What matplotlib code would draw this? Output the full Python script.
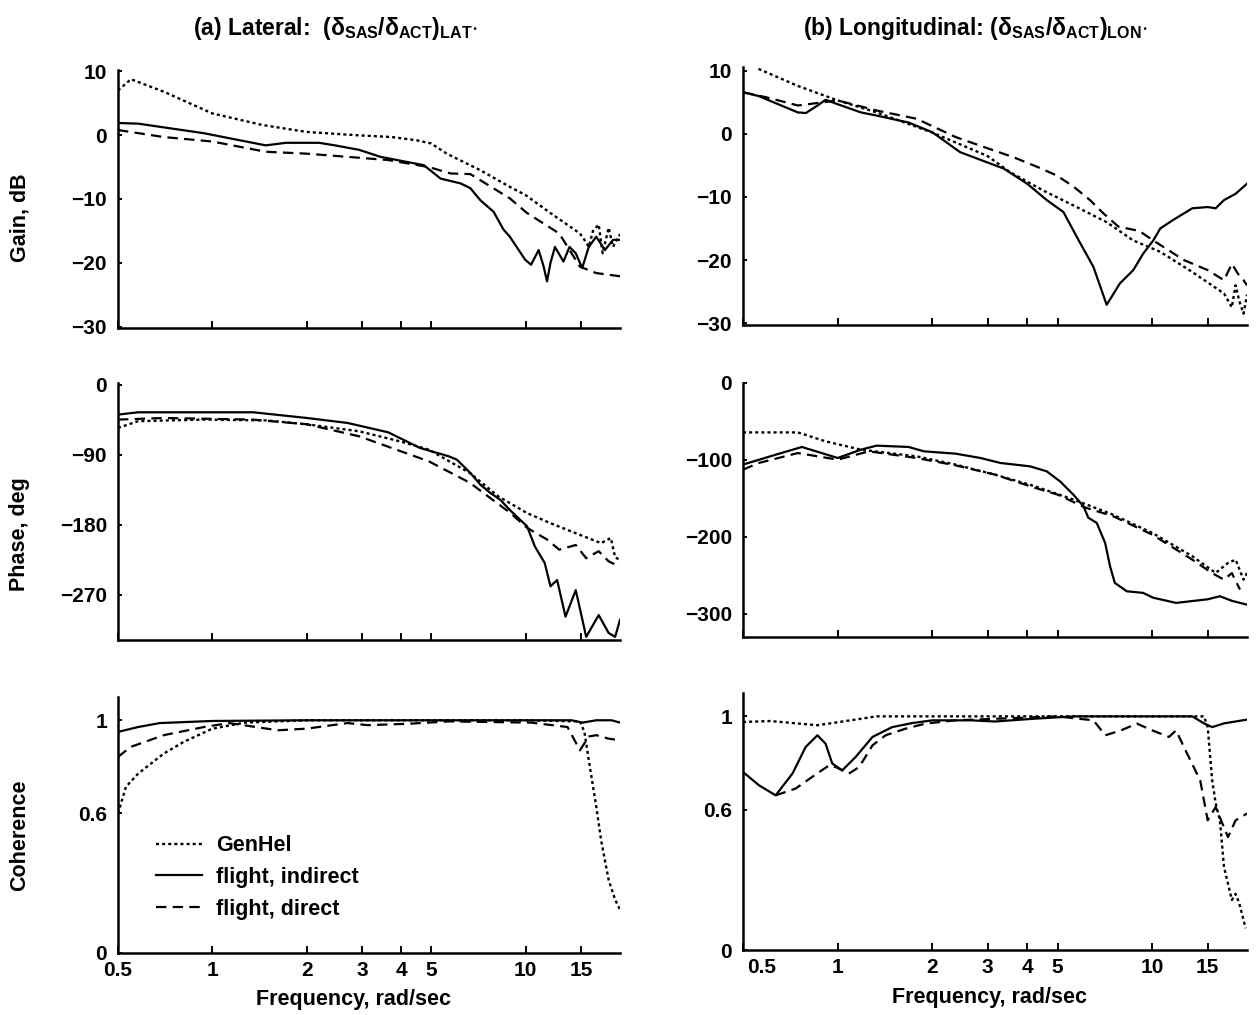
import numpy as np
import matplotlib
matplotlib.use('Agg')
import matplotlib.pyplot as plt
import matplotlib.transforms as mtransforms
from matplotlib.ticker import NullLocator

# ------------------------------------------
# Data
# ------------------------------------------

freq_ticks = [0.5, 1, 2, 3, 4, 5, 10, 15]
freq_tick_labels = ['0.5', '1', '2', '3', '4', '5', '10', '15']
series_labels = ['GenHel', 'flight, indirect', 'flight, direct']

# (a) Lateral - gain, dB
lat_gain_genhel_f = [0.5, 0.55, 0.7, 1.0, 1.44, 2.0, 2.86, 3.74, 4.48, 4.99, 5.6, 7.17, 8.9, 10.0, 12.0,
                     14.9, 15.4, 15.9, 16.4, 17.1, 17.6, 18.4, 19.0, 20.0]
lat_gain_genhel = [7.0, 8.75, 6.8, 3.4, 1.6, 0.5, 0.0, -0.3, -0.8, -1.3, -2.9, -5.5, -8.1, -9.4, -12.2,
                   -15.4, -16.4, -17.5, -15.0, -14.0, -18.5, -14.5, -17.5, -15.5]
lat_gain_ind_f = [0.5, 0.58, 0.94, 1.48, 1.72, 2.19, 2.46, 2.94, 3.44, 4.73, 5.35, 6.19, 6.66, 7.17,
                  7.9, 8.5, 8.9, 9.96, 10.4, 11.0, 11.4, 11.7, 12.0, 12.4, 13.2, 13.8, 14.45,
                  15.15, 15.9, 16.8, 17.9, 19.0, 20.0]
lat_gain_ind = [1.9, 1.8, 0.3, -1.6, -1.2, -1.2, -1.6, -2.3, -3.4, -4.7, -6.8, -7.55, -8.3, -10.2,
                -12.0, -14.8, -15.9, -19.5, -20.3, -18.0, -20.5, -22.9, -20.0, -17.5, -19.8, -17.5, -18.5,
                -20.8, -17.5, -15.9, -18.0, -16.4, -16.4]
lat_gain_dir_f = [0.5, 0.7, 1.0, 1.48, 2.0, 2.7, 3.64, 4.91, 5.76, 6.66, 7.7, 8.9, 10.1, 12.8,
                  14.9, 16.8, 20.0]
lat_gain_dir = [0.8, -0.3, -1.0, -2.6, -2.9, -3.4, -3.9, -5.0, -6.0, -6.1, -8.0, -9.9, -12.2, -15.4,
                -20.6, -21.6, -22.1]

# (a) Lateral - phase, deg
lat_phase_genhel_f = [0.5, 0.58, 0.94, 1.48, 2.0, 2.94, 3.98, 4.91, 6.63, 8.18, 10.1, 12.0, 14.9,
                      17.4, 18.7, 19.3, 20.0]
lat_phase_genhel = [-55.7, -47, -45, -46, -51, -60, -73, -83.6, -113.5, -143.6, -165, -178, -193,
                    -203.6, -197, -222, -225]
lat_phase_ind_f = [0.5, 0.58, 1.35, 2.0, 2.7, 3.64, 4.6, 5.68, 6.03, 6.66, 7.17, 7.7, 8.3, 8.9, 10.1,
                   10.7, 11.5, 12.0, 12.6, 13.4, 14.45, 15.6, 17.1, 18.4, 19.3, 20.0]
lat_phase_ind = [-38.6, -35.6, -35.6, -42.9, -49.3, -61.3, -81.4, -92.1, -96.4, -113.5, -128.6, -139,
                 -148, -161, -182, -208, -229, -259, -251, -298, -264, -324, -296, -319, -324, -302]
lat_phase_dir_f = [0.5, 0.7, 1.35, 2.0, 2.94, 4.91, 6.63, 8.94, 10.1, 11.7, 12.8, 14.45, 15.6,
                   17.1, 18.4, 20.0]
lat_phase_dir = [-45, -42.9, -45, -51, -66.4, -98.6, -126, -165, -184, -199, -212, -206, -223,
                 -214, -227, -234]

# (a) Lateral - coherence
lat_coh_genhel_f = [0.5, 0.53, 0.58, 0.70, 0.81, 1.0, 1.27, 2.0, 5.0, 10.0, 14.9, 15.4, 15.9, 16.8,
                    17.4, 18.4, 19.3, 20.0]
lat_coh_genhel = [0.60, 0.714, 0.771, 0.857, 0.907, 0.964, 0.99, 1.0, 1.0, 1.0, 0.995, 0.95, 0.829,
                  0.629, 0.486, 0.314, 0.229, 0.186]
lat_coh_ind_f = [0.5, 0.58, 0.68, 1.0, 2.0, 5.0, 10.0, 14.0, 15.2, 16.8, 18.8, 20.0]
lat_coh_ind = [0.95, 0.971, 0.988, 0.997, 1.0, 1.0, 1.0, 1.0, 0.99, 1.0, 1.0, 0.99]
lat_coh_dir_f = [0.5, 0.55, 0.70, 0.94, 1.13, 1.62, 2.0, 2.70, 3.13, 4.22, 5.68, 10.4, 13.6, 14.9,
                 15.9, 16.8, 18.4, 20.0]
lat_coh_dir = [0.843, 0.886, 0.936, 0.971, 0.988, 0.957, 0.964, 0.988, 0.979, 0.985, 0.995, 0.99,
               0.971, 0.871, 0.93, 0.936, 0.921, 0.914]

# (b) Longitudinal - gain, dB
lon_gain_genhel_f = [0.56, 0.747, 1.0, 1.33, 2.0, 2.99, 3.54, 4.51, 5.75, 7.16, 8.7, 10.6, 13.4, 16.9,
                     17.9, 18.4, 18.9, 19.5, 20.0]
lon_gain_genhel = [10.3, 7.6, 5.3, 3.4, 0.2, -3.5, -6.1, -9.0, -11.6, -14.0, -16.9, -18.7, -21.9, -25.3,
                   -27.5, -24.0, -26.5, -28.5, -25.5]
lon_gain_ind_f = [0.5, 0.56, 0.647, 0.747, 0.792, 0.863, 0.915, 1.0, 1.185, 1.33, 1.68, 2.0, 2.45,
                  3.37, 4.0, 4.62, 5.22, 5.75, 6.5, 7.16, 7.89, 8.7, 9.35, 10.07, 10.6, 11.6, 13.4,
                  15.0, 15.9, 16.9, 18.4, 20.0]
lon_gain_ind = [6.6, 6.0, 4.7, 3.4, 3.3, 4.5, 5.4, 4.7, 3.4, 2.9, 1.8, 0.25, -2.9, -5.5, -7.9, -10.5,
                -12.4, -16.3, -21.1, -27.1, -23.7, -21.6, -19.0, -16.9, -15.0, -13.7, -11.8, -11.6,
                -11.8, -10.5, -9.5, -7.9]
lon_gain_dir_f = [0.5, 0.593, 0.747, 1.0, 1.33, 1.78, 2.37, 3.0, 3.62, 4.34, 4.97, 5.6, 6.34, 6.99,
                  7.8, 9.1, 10.0, 12.6, 15.0, 16.9, 17.9, 18.9, 19.5, 20.0]
lon_gain_dir = [6.6, 5.8, 4.5, 5.3, 3.7, 2.4, -0.5, -2.3, -3.7, -5.3, -6.6, -8.3, -10.5, -12.6,
                -14.7, -15.4, -16.8, -20.0, -21.6, -23.2, -20.6, -22.5, -23.2, -24.0]

# (b) Longitudinal - phase, deg
lon_phase_genhel_f = [0.5, 0.747, 0.915, 1.185, 1.78, 2.37, 3.16, 4.22, 5.63, 7.5, 10.0, 13.4, 15.9,
                      17.4, 18.4, 19.5, 20.0]
lon_phase_genhel = [-64.2, -64.2, -75.8, -86.6, -95.3, -106, -119, -134, -151.6, -171, -194.8, -225,
                    -246.8, -233.8, -229.6, -255.5, -246.8]
lon_phase_ind_f = [0.5, 0.61, 0.769, 1.0, 1.185, 1.33, 1.68, 1.88, 2.37, 2.84, 3.29, 4.09, 4.62, 5.09,
                   5.61, 6.04, 6.26, 6.66, 7.08, 7.34, 7.6, 8.3, 9.35, 10.07, 11.9, 15.0, 16.4, 17.9,
                   20.0]
lon_phase_ind = [-106, -95.3, -83.1, -97.4, -86.6, -81.4, -83.1, -88.8, -91.8, -97.4, -103.9, -108.3,
                 -114.8, -127.8, -145, -160, -175, -181.8, -207.8, -238, -259.7, -270.6, -272.7, -279,
                 -285.7, -281, -277, -283, -288]
lon_phase_dir_f = [0.5, 0.56, 0.747, 1.0, 1.256, 1.78, 2.37, 3.16, 4.22, 5.0, 6.14, 7.5, 10.0, 13.4,
                   15.5, 16.9, 17.9, 19.0]
lon_phase_dir = [-112.6, -104, -91, -99.6, -88.8, -97.4, -107, -119, -136, -145, -162, -173, -197,
                 -229.5, -247, -255.5, -247, -268.4]

# (b) Longitudinal - coherence
lon_coh_genhel_f = [0.5, 0.61, 0.863, 1.06, 1.33, 2.0, 5.0, 10.0, 14.6, 15.0, 15.5, 15.9, 16.4, 16.9,
                    17.9, 18.4, 18.9, 19.8]
lon_coh_genhel = [0.976, 0.98, 0.962, 0.98, 1.0, 1.0, 1.0, 1.0, 1.0, 0.954, 0.726, 0.628, 0.555,
                  0.356, 0.214, 0.24, 0.2, 0.093]
lon_coh_ind_f = [0.5, 0.562, 0.635, 0.718, 0.791, 0.862, 0.915, 0.961, 1.034, 1.14, 1.29, 1.49, 1.72,
                 2.0, 2.66, 3.16, 4.22, 5.63, 10.0, 13.4, 14.6, 15.5, 16.9, 20.0]
lon_coh_ind = [0.762, 0.705, 0.662, 0.755, 0.869, 0.919, 0.883, 0.798, 0.769, 0.826, 0.912, 0.954,
               0.971, 0.983, 0.983, 0.978, 0.99, 1.0, 1.0, 1.0, 0.97, 0.954, 0.97, 0.986]
lon_coh_dir_f = [0.635, 0.735, 0.83, 0.938, 0.985, 1.085, 1.17, 1.29, 1.42, 1.64, 1.9, 2.37, 5.0, 6.5,
                 7.09, 7.95, 8.93, 10.0, 11.3, 11.9, 12.6, 14.2, 15.0, 15.9, 17.4, 18.4, 20.0]
lon_coh_dir = [0.662, 0.691, 0.741, 0.79, 0.783, 0.755, 0.783, 0.876, 0.919, 0.947, 0.969, 0.983, 1.0,
               0.983, 0.919, 0.94, 0.969, 0.94, 0.912, 0.94, 0.869, 0.726, 0.555, 0.612, 0.483, 0.555,
               0.584]

# ------------------------------------------
# Style
# ------------------------------------------

plt.rcParams['font.family'] = ['Liberation Sans', 'DejaVu Sans']
plt.rcParams['font.weight'] = 'bold'
plt.rcParams['font.size'] = 15
plt.rcParams['mathtext.fontset'] = 'custom'
plt.rcParams['mathtext.rm'] = 'Liberation Sans'
plt.rcParams['mathtext.bf'] = 'Liberation Sans:bold'
plt.rcParams['mathtext.it'] = 'Liberation Sans:bold'
plt.rcParams['lines.scale_dashes'] = False

styles = {
    'genhel': dict(color='black', lw=1.7, linestyle=(0, (2.2, 2.2))),
    'ind': dict(color='black', lw=1.6, linestyle='-'),
    'dir': dict(color='black', lw=1.6, linestyle=(0, (7.5, 4.5))),
}

W, H = 1258, 1015
fig = plt.figure(figsize=(W / 100, H / 100), dpi=100)


def px_axes(left, top, right, bottom):
    return fig.add_axes([left / W, 1 - bottom / H, (right - left) / W, (bottom - top) / H])


def style_axes(ax, ylim, yticks, yticklabels, show_x):
    ax.set_xscale('log')
    ax.set_xlim(0.5, 20)
    ax.set_ylim(*ylim)
    ax.spines[['top', 'right']].set_visible(False)
    ax.spines[['left', 'bottom']].set_linewidth(1.8)
    ax.set_xticks(freq_ticks)
    ax.set_xticklabels(freq_tick_labels if show_x else [])
    ax.xaxis.set_minor_locator(NullLocator())
    ax.set_yticks(yticks)
    ax.set_yticklabels(yticklabels)
    ax.tick_params(axis='x', direction='in', length=5, width=1.4, pad=6, labelsize=15)
    ax.tick_params(axis='y', direction='in', length=3, width=1.4, pad=8, labelsize=15)


def draw(ax, f_gen, v_gen, f_ind, v_ind, f_dir, v_dir):
    l1, = ax.plot(f_gen, v_gen, **styles['genhel'])
    l2, = ax.plot(f_ind, v_ind, **styles['ind'])
    l3, = ax.plot(f_dir, v_dir, **styles['dir'])
    return [l1, l2, l3]


# ------------------------------------------
# Panels
# ------------------------------------------

minus = '\u2212'

# Lateral
ax = px_axes(118, 70, 620, 328)
draw(ax, lat_gain_genhel_f, lat_gain_genhel, lat_gain_ind_f, lat_gain_ind, lat_gain_dir_f, lat_gain_dir)
style_axes(ax, (-30.2, 10.2), [10, 0, -10, -20, -30], ['10', '0', minus + '10', minus + '20', minus + '30'], False)

ax = px_axes(118, 383, 620, 640)
draw(ax, lat_phase_genhel_f, lat_phase_genhel, lat_phase_ind_f, lat_phase_ind, lat_phase_dir_f, lat_phase_dir)
style_axes(ax, (-328, 2), [0, -90, -180, -270], ['0', minus + '90', minus + '180', minus + '270'], False)

ax = px_axes(118, 697, 620, 953)
lines = draw(ax, lat_coh_genhel_f, lat_coh_genhel, lat_coh_ind_f, lat_coh_ind, lat_coh_dir_f, lat_coh_dir)
style_axes(ax, (0, 1.1), [0, 0.6, 1], ['0', '0.6', '1'], True)
ax.legend(lines, series_labels, loc='upper left', bbox_to_anchor=(0.076, 0.46), frameon=False,
          handlelength=2.14, handletextpad=0.65, labelspacing=0.5, borderpad=0, borderaxespad=0,
          prop=dict(size=15.5, weight='bold'))

# Longitudinal
ax = px_axes(743, 67, 1247, 325)
draw(ax, lon_gain_genhel_f, lon_gain_genhel, lon_gain_ind_f, lon_gain_ind, lon_gain_dir_f, lon_gain_dir)
style_axes(ax, (-30.3, 10.6), [10, 0, -10, -20, -30], ['10', '0', minus + '10', minus + '20', minus + '30'], False)

ax = px_axes(743, 383, 1247, 637)
draw(ax, lon_phase_genhel_f, lon_phase_genhel, lon_phase_ind_f, lon_phase_ind, lon_phase_dir_f, lon_phase_dir)
style_axes(ax, (-330, 0), [0, -100, -200, -300], ['0', minus + '100', minus + '200', minus + '300'], False)

ax = px_axes(743, 693, 1247, 950)
draw(ax, lon_coh_genhel_f, lon_coh_genhel, lon_coh_ind_f, lon_coh_ind, lon_coh_dir_f, lon_coh_dir)
style_axes(ax, (0, 1.1), [0, 0.6, 1], ['0', '0.6', '1'], True)
# in the original the "0.5" label of this panel sits a little right of the axis corner
first = ax.get_xticklabels()[0]
first.set_transform(first.get_transform() + mtransforms.ScaledTranslation(0.19, 0, fig.dpi_scale_trans))

# ------------------------------------------
# Titles and labels
# ------------------------------------------

fig.text(335 / W, 1 - 28 / H,
         r'(a) Lateral:  ($\mathrm{\delta}_{\mathbf{SAS}}/\mathrm{\delta}_{\mathbf{ACT}}$)$_{\mathbf{LAT}}$$\cdot$',
         ha='center', va='center', fontsize=16.5, weight='bold')
fig.text(975 / W, 1 - 28 / H,
         r'(b) Longitudinal: ($\mathrm{\delta}_{\mathbf{SAS}}/\mathrm{\delta}_{\mathbf{ACT}}$)$_{\mathbf{LON}}$$\cdot$',
         ha='center', va='center', fontsize=16.5, weight='bold')

fig.text(20 / W, 1 - 218 / H, 'Gain, dB', rotation=90, ha='center', va='center', fontsize=15.5, weight='bold')
fig.text(20 / W, 1 - 534 / H, 'Phase, deg', rotation=90, ha='center', va='center', fontsize=15.5, weight='bold')
fig.text(20 / W, 1 - 835 / H, 'Coherence', rotation=90, ha='center', va='center', fontsize=15.5, weight='bold')

fig.text(353 / W, 1 - 1000 / H, 'Frequency, rad/sec', ha='center', va='center', fontsize=15.5, weight='bold')
fig.text(990 / W, 1 - 997 / H, 'Frequency, rad/sec', ha='center', va='center', fontsize=15.5, weight='bold')

fig.savefig('out.png', dpi=100)
